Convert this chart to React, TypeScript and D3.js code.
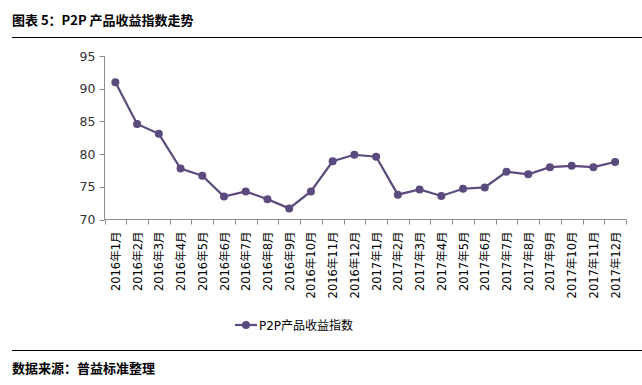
import React from "react";
import * as d3 from "d3";

const categories = [
  "2016年1月","2016年2月","2016年3月","2016年4月","2016年5月","2016年6月",
  "2016年7月","2016年8月","2016年9月","2016年10月","2016年11月","2016年12月",
  "2017年1月","2017年2月","2017年3月","2017年4月","2017年5月","2017年6月",
  "2017年7月","2017年8月","2017年9月","2017年10月","2017年11月","2017年12月",
];
const values = [
  91.0, 84.6, 83.1, 77.8, 76.7, 73.5, 74.3, 73.1, 71.7, 74.3, 78.9, 79.9,
  79.6, 73.8, 74.6, 73.6, 74.7, 74.9, 77.3, 76.9, 78.0, 78.2, 78.0, 78.8,
];
const yTicks = [70, 75, 80, 85, 90, 95];
const seriesName = "P2P产品收益指数";
const title = "图表 5：P2P 产品收益指数走势";
const source = "数据来源：普益标准整理";

const W = 642, H = 385;
const left = 104.5, right = 626, top = 56, bottom = 219.5;
const color = "#5B4A7E";
const axisColor = "#8C8C8C";
const fontAxis = "'DejaVu Sans', Verdana, sans-serif";
const fontCJK = "'Noto Sans CJK SC', 'DejaVu Sans', sans-serif";
const fontMixed = "'DejaVu Sans', 'Noto Sans CJK SC', sans-serif";

export default function App() {
  const x = d3.scaleBand<string>().domain(categories).range([left, right]).paddingInner(0).paddingOuter(0);
  const y = d3.scaleLinear().domain([70, 95]).range([bottom, top]);
  const line = d3.line<number>()
    .x((_, i) => (x(categories[i]) as number) + x.bandwidth() / 2)
    .y((d) => y(d));
  const boundaries = categories.map((c) => x(c) as number).concat([right]);

  return (
    <svg width={W} height={H} style={{ position: "absolute", left: 0, top: 0, background: "#fff" }}>
      <text x={12} y={25} fontFamily={fontCJK} fontWeight="bold" fontSize={13} fill="#000">{title}</text>
      <line x1={12} x2={642} y1={37.5} y2={37.5} stroke="#000" strokeWidth={1} />

      {/* y axis */}
      <line x1={left} x2={left} y1={top} y2={bottom} stroke={axisColor} />
      {yTicks.map((t) => (
        <g key={t}>
          <line x1={left - 5} x2={left} y1={Math.round(y(t)) + 0.5} y2={Math.round(y(t)) + 0.5} stroke={axisColor} />
          <text x={left - 9} y={y(t) + 4.5} textAnchor="end" fontFamily={fontAxis} fontSize={12.5} fill="#333">{t}</text>
        </g>
      ))}
      {/* x axis */}
      <line x1={left} x2={right} y1={bottom} y2={bottom} stroke={axisColor} />
      {boundaries.map((b, i) => (
        <line key={i} x1={Math.round(b) + 0.5} x2={Math.round(b) + 0.5} y1={bottom} y2={bottom + 5} stroke={axisColor} />
      ))}
      {categories.map((c) => {
        const cx = (x(c) as number) + x.bandwidth() / 2;
        return (
          <text key={c} transform={`translate(${cx + 4.5},${bottom + 12}) rotate(-90)`} textAnchor="end"
            fontFamily={fontMixed} fontSize={11.5} fill="#000">{c}</text>
        );
      })}

      <path d={line(values) || ""} fill="none" stroke={color} strokeWidth={2.2} />
      {values.map((v, i) => (
        <circle key={i} cx={(x(categories[i]) as number) + x.bandwidth() / 2} cy={y(v)} r={4} fill={color} />
      ))}

      {/* legend */}
      <line x1={235} x2={257} y1={325} y2={325} stroke={color} strokeWidth={2.2} />
      <circle cx={246} cy={325} r={4} fill={color} />
      <text x={259} y={329.5} fontFamily={fontMixed} fontSize={12} fill="#000">{seriesName}</text>

      <line x1={12} x2={642} y1={350.5} y2={350.5} stroke="#000" strokeWidth={1} />
      <text x={12} y={373} fontFamily={fontCJK} fontWeight="bold" fontSize={13} fill="#000">{source}</text>
    </svg>
  );
}
